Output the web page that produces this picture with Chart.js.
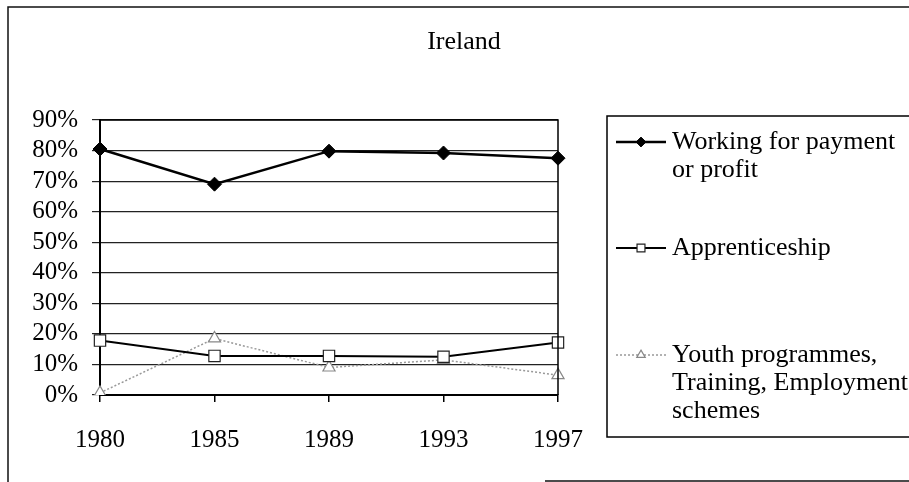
<!DOCTYPE html>
<html>
<head>
<meta charset="utf-8">
<script src="https://cdn.jsdelivr.net/npm/chart.js@4/dist/chart.umd.min.js"></script>
<style>
  html, body { margin: 0; padding: 0; background: #fff; }
  #wrap { width: 909px; height: 482px; position: relative; }
</style>
</head>
<body>
<div id="wrap"><canvas id="chart" width="909" height="482"></canvas></div>
<script>
// Chart data
const chartTitle = 'Ireland';
const years = ['1980', '1985', '1989', '1993', '1997'];
const working = [80.5, 69, 79.8, 79.2, 77.5];
const apprenticeship = [17.8, 12.8, 12.8, 12.5, 17.2];
const youthSchemes = [0.7, 18.5, 9, 11.5, 6.5];
const legendLines = [
    ['Working for payment', 'or profit'],
    ['Apprenticeship'],
    ['Youth programmes,', 'Training, Employment', 'schemes']
];
const yTicks = [0, 10, 20, 30, 40, 50, 60, 70, 80, 90];

const SERIF = '"Liberation Serif", "Times New Roman", Times, serif';

// Frame, title, plot border and the boxed legend on the right
const decorPlugin = {
    id: 'decor',
    afterDraw(chart) {
        const ctx = chart.ctx;
        const area = chart.chartArea;
        ctx.save();

        // outer frame (scanned page, partially visible)
        ctx.strokeStyle = '#111';
        ctx.lineWidth = 1.5;
        ctx.beginPath();
        ctx.moveTo(8, 482); ctx.lineTo(8, 7); ctx.lineTo(909, 7);
        ctx.moveTo(545, 481); ctx.lineTo(909, 481);
        ctx.stroke();

        // plot border (top + right)
        ctx.strokeStyle = '#000';
        ctx.beginPath();
        ctx.moveTo(area.left, area.top); ctx.lineTo(area.right, area.top);
        ctx.lineTo(area.right, area.bottom);
        ctx.stroke();

        // title
        ctx.fillStyle = '#000';
        ctx.font = '26px ' + SERIF;
        ctx.textAlign = 'center';
        ctx.textBaseline = 'middle';
        ctx.fillText(chartTitle, 464, 42);

        // legend box
        ctx.lineWidth = 1.5;
        ctx.strokeRect(607, 116, 320, 321);

        const entryY = [142, 248, 355];
        ctx.textAlign = 'left';
        chart.data.datasets.forEach((ds, i) => {
            const y = entryY[i];
            ctx.save();
            ctx.strokeStyle = ds.borderColor;
            ctx.lineWidth = ds.borderWidth;
            ctx.setLineDash(ds.borderDash || []);
            ctx.beginPath();
            ctx.moveTo(616, y); ctx.lineTo(666, y);
            ctx.stroke();
            ctx.setLineDash([]);
            ctx.fillStyle = ds.pointBackgroundColor;
            ctx.strokeStyle = ds.pointBorderColor;
            ctx.lineWidth = ds.pointBorderWidth;
            Chart.helpers.drawPoint(ctx, {
                pointStyle: ds.pointStyle,
                radius: ds.pointRadius * 0.7,
                borderWidth: ds.pointBorderWidth,
                rotation: 0
            }, 641, y);
            ctx.restore();

            ctx.fillStyle = '#000';
            ctx.font = '26px ' + SERIF;
            ctx.textBaseline = 'middle';
            legendLines[i].forEach((line, j) => {
                ctx.fillText(line, 672, y + j * 28);
            });
        });

        ctx.restore();
    }
};

new Chart(document.getElementById('chart'), {
    type: 'line',
    data: {
        labels: years,
        datasets: [
            {
                label: legendLines[0].join(' '),
                data: working,
                borderColor: '#000',
                borderWidth: 2.5,
                pointStyle: 'rectRot',
                pointRadius: 7,
                pointBackgroundColor: '#000',
                pointBorderColor: '#000',
                pointBorderWidth: 1
            },
            {
                label: legendLines[1].join(' '),
                data: apprenticeship,
                borderColor: '#000',
                borderWidth: 2,
                pointStyle: 'rect',
                pointRadius: 8,
                pointBackgroundColor: '#fff',
                pointBorderColor: '#222',
                pointBorderWidth: 1.2
            },
            {
                label: legendLines[2].join(' '),
                data: youthSchemes,
                borderColor: '#999',
                borderWidth: 1.5,
                borderDash: [2, 2],
                pointStyle: 'triangle',
                pointRadius: 7,
                pointBackgroundColor: '#fff',
                pointBorderColor: '#888',
                pointBorderWidth: 1.2
            }
        ]
    },
    options: {
        responsive: false,
        animation: false,
        layout: { padding: { top: 120, right: 351, bottom: 0, left: 0 } },
        plugins: {
            legend: { display: false },
            title: { display: false },
            tooltip: { enabled: false }
        },
        elements: { line: { tension: 0 } },
        scales: {
            x: {
                offset: false,
                grid: {
                    drawOnChartArea: false,
                    drawTicks: true,
                    tickLength: 7,
                    color: '#000',
                    lineWidth: 1.5
                },
                border: { color: '#000', width: 2 },
                ticks: {
                    color: '#000',
                    padding: 23,
                    maxRotation: 0,
                    autoSkip: false,
                    font: { family: SERIF, size: 25 }
                },
                afterFit(scale) { scale.height = 87; }
            },
            y: {
                min: 0,
                max: 90,
                afterBuildTicks(scale) { scale.ticks = yTicks.map(v => ({ value: v })); },
                grid: {
                    color: '#222',
                    lineWidth: 1.2,
                    tickLength: 8
                },
                border: { color: '#000', width: 2 },
                ticks: {
                    color: '#000',
                    padding: 14,
                    autoSkip: false,
                    callback: v => v + '%',
                    font: { family: SERIF, size: 25 }
                },
                afterFit(scale) { scale.width = 100; }
            }
        }
    },
    plugins: [decorPlugin]
});
</script>
</body>
</html>
